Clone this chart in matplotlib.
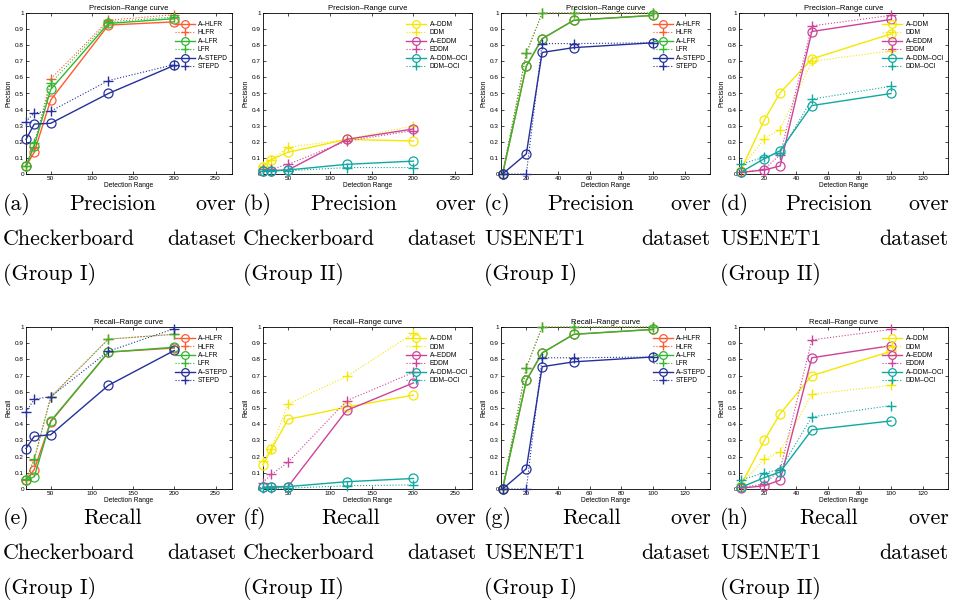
import matplotlib
matplotlib.use('Agg')
import matplotlib.pyplot as plt

# detection ranges used for each dataset
x_checker = [20, 30, 50, 120, 200]
x_usenet = [5, 20, 30, 50, 100]

labels_g1 = ['A\u2013HLFR', 'HLFR', 'A\u2013LFR', 'LFR', 'A\u2013STEPD', 'STEPD']
labels_g2 = ['A\u2013DDM', 'DDM', 'A\u2013EDDM', 'EDDM', 'A\u2013DDM\u2013OCI', 'DDM\u2013OCI']

# ----------------------------------------------------------------------- #
# (a) precision, checkerboard, group I
prec_chk1_ahlfr = [0.05, 0.135, 0.46, 0.925, 0.945]
prec_chk1_hlfr = [0.05, 0.17, 0.59, 0.955, 0.99]
prec_chk1_alfr = [0.05, 0.175, 0.525, 0.935, 0.965]
prec_chk1_lfr = [0.05, 0.19, 0.565, 0.945, 0.975]
prec_chk1_astepd = [0.215, 0.31, 0.315, 0.50, 0.675]
prec_chk1_stepd = [0.325, 0.38, 0.39, 0.58, 0.68]

# (b) precision, checkerboard, group II
prec_chk2_addm = [0.045, 0.09, 0.135, 0.215, 0.205]
prec_chk2_ddm = [0.05, 0.09, 0.165, 0.215, 0.30]
prec_chk2_aeddm = [0.02, 0.02, 0.025, 0.215, 0.28]
prec_chk2_eddm = [0.03, 0.03, 0.06, 0.205, 0.27]
prec_chk2_aoci = [0.02, 0.02, 0.025, 0.06, 0.08]
prec_chk2_oci = [0.02, 0.02, 0.02, 0.04, 0.04]

# (c) precision, usenet1, group I
prec_use1_ahlfr = [0.0, 0.67, 0.84, 0.955, 0.985]
prec_use1_hlfr = [0.0, 0.75, 1.0, 1.0, 1.0]
prec_use1_alfr = [0.0, 0.67, 0.84, 0.955, 0.985]
prec_use1_lfr = [0.0, 0.75, 1.0, 1.0, 1.0]
prec_use1_astepd = [0.0, 0.125, 0.755, 0.785, 0.815]
prec_use1_stepd = [0.0, 0.0, 0.81, 0.81, 0.815]

# (d) precision, usenet1, group II
prec_use2_addm = [0.02, 0.335, 0.505, 0.715, 0.87]
prec_use2_ddm = [0.03, 0.22, 0.275, 0.70, 0.765]
prec_use2_aeddm = [0.01, 0.025, 0.05, 0.885, 0.96]
prec_use2_eddm = [0.01, 0.03, 0.12, 0.92, 0.985]
prec_use2_aoci = [0.01, 0.095, 0.145, 0.425, 0.50]
prec_use2_oci = [0.06, 0.105, 0.13, 0.465, 0.545]

# (e) recall, checkerboard, group I
rec_chk1_ahlfr = [0.055, 0.12, 0.415, 0.845, 0.87]
rec_chk1_hlfr = [0.055, 0.18, 0.57, 0.925, 0.955]
rec_chk1_alfr = [0.055, 0.075, 0.42, 0.845, 0.875]
rec_chk1_lfr = [0.06, 0.185, 0.565, 0.925, 0.955]
rec_chk1_astepd = [0.25, 0.325, 0.335, 0.64, 0.855]
rec_chk1_stepd = [0.475, 0.555, 0.57, 0.85, 0.99]

# (f) recall, checkerboard, group II
rec_chk2_addm = [0.15, 0.245, 0.43, 0.505, 0.58]
rec_chk2_ddm = [0.17, 0.25, 0.525, 0.695, 0.96]
rec_chk2_aeddm = [0.01, 0.01, 0.015, 0.485, 0.655]
rec_chk2_eddm = [0.04, 0.09, 0.165, 0.545, 0.72]
rec_chk2_aoci = [0.01, 0.015, 0.015, 0.045, 0.065]
rec_chk2_oci = [0.005, 0.005, 0.005, 0.02, 0.025]

# (g) recall, usenet1, group I
rec_use1_ahlfr = [0.0, 0.67, 0.84, 0.955, 0.985]
rec_use1_hlfr = [0.0, 0.75, 1.0, 1.0, 1.0]
rec_use1_alfr = [0.0, 0.67, 0.84, 0.955, 0.985]
rec_use1_lfr = [0.0, 0.75, 1.0, 1.0, 1.0]
rec_use1_astepd = [0.0, 0.125, 0.755, 0.785, 0.815]
rec_use1_stepd = [0.0, 0.0, 0.81, 0.81, 0.815]

# (h) recall, usenet1, group II
rec_use2_addm = [0.02, 0.30, 0.465, 0.70, 0.85]
rec_use2_ddm = [0.03, 0.185, 0.23, 0.585, 0.64]
rec_use2_aeddm = [0.005, 0.02, 0.055, 0.81, 0.885]
rec_use2_eddm = [0.01, 0.03, 0.12, 0.92, 0.985]
rec_use2_aoci = [0.01, 0.07, 0.105, 0.365, 0.42]
rec_use2_oci = [0.055, 0.10, 0.12, 0.445, 0.515]

# ----------------------------------------------------------------------- #
colors_g1 = ['#ff5a32', '#ff5a32', '#30b830', '#30b830', '#25309a', '#25309a']
colors_g2 = ['#f5e800', '#f5e800', '#cc4499', '#cc4499', '#10a8a0', '#10a8a0']

W, H = 956, 608
fig = plt.figure(figsize=(W / 100, H / 100), dpi=100)

# axes boxes in pixels: left, right, top, bottom
cols = [(26, 232), (263, 472), (501, 710), (739, 948)]
rows = [(13, 174), (327, 489)]

panels = [
    ('Precision', x_checker, labels_g1, colors_g1,
     [prec_chk1_ahlfr, prec_chk1_hlfr, prec_chk1_alfr, prec_chk1_lfr, prec_chk1_astepd, prec_chk1_stepd]),
    ('Precision', x_checker, labels_g2, colors_g2,
     [prec_chk2_addm, prec_chk2_ddm, prec_chk2_aeddm, prec_chk2_eddm, prec_chk2_aoci, prec_chk2_oci]),
    ('Precision', x_usenet, labels_g1, colors_g1,
     [prec_use1_ahlfr, prec_use1_hlfr, prec_use1_alfr, prec_use1_lfr, prec_use1_astepd, prec_use1_stepd]),
    ('Precision', x_usenet, labels_g2, colors_g2,
     [prec_use2_addm, prec_use2_ddm, prec_use2_aeddm, prec_use2_eddm, prec_use2_aoci, prec_use2_oci]),
    ('Recall', x_checker, labels_g1, colors_g1,
     [rec_chk1_ahlfr, rec_chk1_hlfr, rec_chk1_alfr, rec_chk1_lfr, rec_chk1_astepd, rec_chk1_stepd]),
    ('Recall', x_checker, labels_g2, colors_g2,
     [rec_chk2_addm, rec_chk2_ddm, rec_chk2_aeddm, rec_chk2_eddm, rec_chk2_aoci, rec_chk2_oci]),
    ('Recall', x_usenet, labels_g1, colors_g1,
     [rec_use1_ahlfr, rec_use1_hlfr, rec_use1_alfr, rec_use1_lfr, rec_use1_astepd, rec_use1_stepd]),
    ('Recall', x_usenet, labels_g2, colors_g2,
     [rec_use2_addm, rec_use2_ddm, rec_use2_aeddm, rec_use2_eddm, rec_use2_aoci, rec_use2_oci]),
]

captions = [
    [['(a)', 'Precision', 'over'], ['Checkerboard', 'dataset'], ['(Group I)']],
    [['(b)', 'Precision', 'over'], ['Checkerboard', 'dataset'], ['(Group II)']],
    [['(c)', 'Precision', 'over'], ['USENET1', 'dataset'], ['(Group I)']],
    [['(d)', 'Precision', 'over'], ['USENET1', 'dataset'], ['(Group II)']],
    [['(e)', 'Recall', 'over'], ['Checkerboard', 'dataset'], ['(Group I)']],
    [['(f)', 'Recall', 'over'], ['Checkerboard', 'dataset'], ['(Group II)']],
    [['(g)', 'Recall', 'over'], ['USENET1', 'dataset'], ['(Group I)']],
    [['(h)', 'Recall', 'over'], ['USENET1', 'dataset'], ['(Group II)']],
]
# caption column extents (pixels) and first baseline of each row
cap_cols = [(3, 236), (243, 476), (484, 711), (720, 949)]
cap_rows = [210, 524]

tick_font = 'Liberation Sans'
renderer = fig.canvas.get_renderer()


def put_caption(lines, x0, x1, y_base):
    # justified text like a LaTeX subcaption
    for i, words in enumerate(lines):
        y = 1 - (y_base + i * 35) / H
        texts = [fig.text(x0 / W, y, w, fontsize=15.8, family='cmr10', va='baseline')
                 for w in words]
        if len(words) == 1:
            continue
        widths = [t.get_window_extent(renderer).width for t in texts]
        gap = (x1 - x0 - sum(widths)) / (len(words) - 1)
        pos = x0
        for t, w in zip(texts, widths):
            t.set_x(pos / W)
            pos += w + gap


for k, (metric, xs, labels, colors, series) in enumerate(panels):
    r, c = divmod(k, 4)
    (xl, xr), (yt, yb) = cols[c], rows[r]
    ax = fig.add_axes([xl / W, 1 - yb / H, (xr - xl) / W, (yb - yt) / H])
    for j, ys in enumerate(series):
        if j % 2 == 0:
            ax.plot(xs, ys, '-o', color=colors[j], lw=1.0, ms=6.5, mfc='none',
                    mew=0.9, label=labels[j], clip_on=False, zorder=3)
        else:
            ax.plot(xs, ys, ':+', color=colors[j], lw=0.8, ms=6.5, mew=1.0,
                    label=labels[j], clip_on=False, zorder=3)
    ax.set_ylim(0, 1)
    ax.set_yticks([i / 10 for i in range(11)])
    ax.set_yticklabels(['0'] + ['0.%d' % i for i in range(1, 10)] + ['1'])
    if xs is x_checker:
        ax.set_xlim(20, 270)
        ax.set_xticks([50, 100, 150, 200, 250])
    else:
        ax.set_xlim(4, 136)
        ax.set_xticks([20, 40, 60, 80, 100, 120])
    ax.tick_params(direction='in', length=2, width=0.5, labelsize=4.6, pad=1.5,
                   top=True, right=True)
    for lab in ax.get_xticklabels() + ax.get_yticklabels():
        lab.set_family(tick_font)
    for sp in ax.spines.values():
        sp.set_linewidth(0.6)
    ax.set_title(metric + '\u2013Range curve', fontsize=5.5, family=tick_font, pad=2.5)
    ax.set_xlabel('Detection Range', fontsize=4.8, family=tick_font, labelpad=1)
    ax.set_ylabel(metric, fontsize=4.8, family=tick_font, labelpad=2)
    ax.legend(loc='upper right', bbox_to_anchor=(1.0, 0.975), frameon=False,
              prop={'family': tick_font, 'size': 4.8}, markerscale=0.85,
              handlelength=3.0, labelspacing=0.22, borderaxespad=0.2, handletextpad=0.5)
    put_caption(captions[k], cap_cols[c][0], cap_cols[c][1], cap_rows[r])

fig.savefig('out.png', dpi=100)
